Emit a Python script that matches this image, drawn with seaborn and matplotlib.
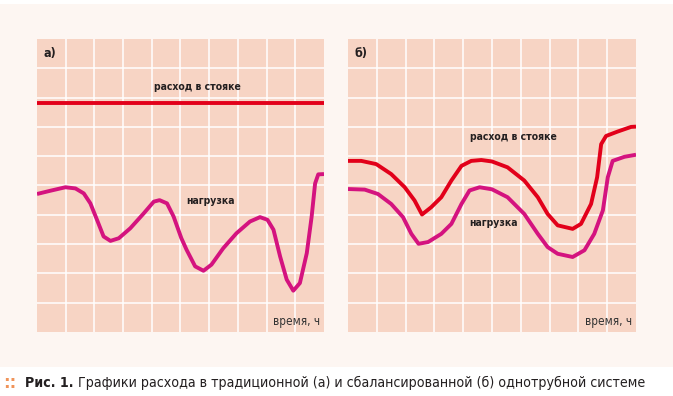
import numpy as np
import pandas as pd
import matplotlib
matplotlib.use("Agg")
import matplotlib.pyplot as plt
import seaborn as sns

# панель а) - традиционная система
a_flow_x = [0, 10]
a_flow_y = [7.8, 7.8]
a_load_x = [0, 0.46, 0.99, 1.34, 1.63, 1.86, 2.09, 2.32, 2.56, 2.85, 3.25,
            3.72, 4.07, 4.27, 4.53, 4.76, 5.03, 5.21, 5.51, 5.8, 6.08, 6.49,
            6.95, 7.42, 7.77, 8.03, 8.24, 8.47, 8.7, 8.93, 9.16, 9.4, 9.57,
            9.69, 9.8, 10]
a_load_y = [4.71, 4.82, 4.94, 4.9, 4.73, 4.39, 3.83, 3.26, 3.11, 3.2, 3.54,
            4.05, 4.45, 4.5, 4.39, 3.94, 3.2, 2.81, 2.24, 2.09, 2.3, 2.86,
            3.37, 3.77, 3.92, 3.83, 3.49, 2.58, 1.79, 1.41, 1.67, 2.69, 3.94,
            5.07, 5.38, 5.39]

# панель б) - сбалансированная система
b_flow_x = [0, 0.46, 0.98, 1.5, 1.97, 2.31, 2.57, 2.89, 3.24, 3.59, 3.94,
            4.28, 4.63, 5.0, 5.54, 6.12, 6.59, 6.93, 7.28, 7.8, 8.09, 8.44,
            8.65, 8.79, 8.96, 9.36, 9.83, 10]
b_flow_y = [5.84, 5.84, 5.73, 5.39, 4.94, 4.49, 4.01, 4.26, 4.6, 5.17, 5.67,
            5.84, 5.87, 5.82, 5.62, 5.17, 4.6, 4.03, 3.64, 3.52, 3.69, 4.37,
            5.28, 6.41, 6.69, 6.84, 7.0, 7.01]
b_load_x = [0, 0.58, 1.04, 1.5, 1.91, 2.2, 2.45, 2.78, 3.24, 3.59, 3.94,
            4.22, 4.57, 5.0, 5.54, 6.12, 6.59, 6.93, 7.28, 7.8, 8.21, 8.55,
            8.85, 9.02, 9.19, 9.6, 10]
b_load_y = [4.88, 4.86, 4.71, 4.37, 3.92, 3.35, 3.01, 3.07, 3.35, 3.69, 4.37,
            4.83, 4.94, 4.87, 4.6, 4.03, 3.35, 2.9, 2.67, 2.56, 2.79, 3.35,
            4.15, 5.28, 5.84, 5.98, 6.05]

panels = [
    ("а)", a_flow_x, a_flow_y, a_load_x, a_load_y, (5.6, 8.37, "center"), (6.03, 4.47, "center")),
    ("б)", b_flow_x, b_flow_y, b_load_x, b_load_y, (4.22, 6.64, "left"), (4.22, 3.73, "left")),
]

red = "#e2001a"
magenta = "#d4137f"
panel_bg = "#f7d4c4"
paper = "#fdf6f2"
ink = "#231f20"
font = dict(family="DejaVu Sans", stretch="condensed")

sns.set_style("white")
fig = plt.figure(figsize=(6.73, 3.96), dpi=100)
fig.patch.set_facecolor("white")
# светлая подложка под графиками
fig.patches.append(plt.Rectangle((0, 29 / 396), 1, 363 / 396, transform=fig.transFigure,
                                 facecolor=paper, edgecolor="none", zorder=-1))

positions = [[37 / 673, 64 / 396, 287 / 673, 293 / 396],
             [348 / 673, 64 / 396, 288 / 673, 293 / 396]]

for pos, (tag, fx, fy, lx, ly, flab, llab) in zip(positions, panels):
    ax = fig.add_axes(pos)
    ax.set_facecolor(panel_bg)
    for v in range(1, 10):
        ax.axvline(v, color="white", lw=1.1, zorder=1)
        ax.axhline(v, color="white", lw=1.1, zorder=1)
    sns.lineplot(x=fx, y=fy, ax=ax, color=red, lw=2.8, estimator=None, zorder=3,
                 solid_capstyle="butt", solid_joinstyle="round")
    sns.lineplot(x=lx, y=ly, ax=ax, color=magenta, lw=2.8, estimator=None, zorder=3,
                 solid_capstyle="butt", solid_joinstyle="round")
    ax.set_xlim(0, 10)
    ax.set_ylim(0, 10)
    ax.set_xticks([])
    ax.set_yticks([])
    for s in ax.spines.values():
        s.set_visible(False)
    ax.text(0.45, 9.5, tag, fontsize=9, fontweight="bold", color=ink,
            ha="center", va="center", **font)
    ax.text(flab[0], flab[1], "расход в стояке", fontsize=7.5, fontweight="bold",
            color=ink, ha=flab[2], va="center", **font)
    ax.text(llab[0], llab[1], "нагрузка", fontsize=7.5, fontweight="bold",
            color=ink, ha=llab[2], va="center", **font)
    ax.text(9.85, 0.36, "время, ч", fontsize=8.5, color="#333333",
            ha="right", va="center", **font)

cy = 1 - 383 / 396
fig.text(3 / 673, cy, "::", fontsize=12, fontweight="bold", color="#f0945a",
         ha="left", va="center")
t1 = fig.text(25 / 673, cy, "Рис. 1.", fontsize=10.5, fontweight="bold",
              color=ink, ha="left", va="center", **font)
t2 = fig.text(0, cy,
              "Графики расхода в традиционной (а) и сбалансированной (б) однотрубной системе",
              fontsize=10.5, color=ink, ha="left", va="center", **font)
# подгонка подписи по ширине: от x=25 до x=650
r = fig.canvas.get_renderer()
w1 = t1.get_window_extent(r).width
w2 = t2.get_window_extent(r).width
k = 625 / (w1 + 4 + w2)
t1.set_fontsize(10.5 * k)
t2.set_fontsize(10.5 * k)
w1 = t1.get_window_extent(r).width
t2.set_x((25 + w1 + 4) / 673)

fig.savefig("out.png", dpi=100, facecolor=fig.get_facecolor())
